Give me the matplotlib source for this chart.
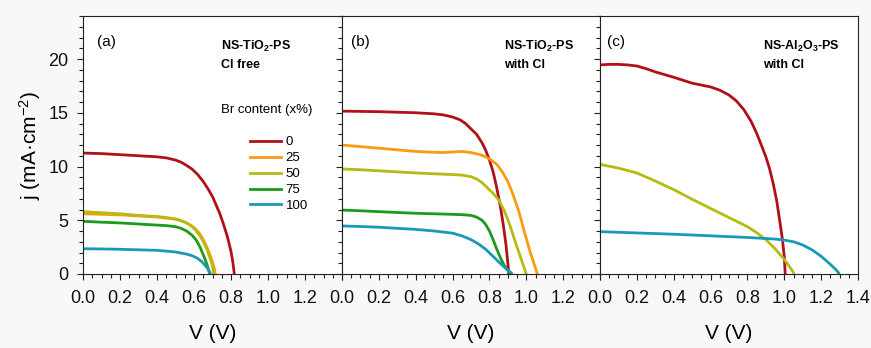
import matplotlib
matplotlib.use("Agg")
import matplotlib.pyplot as plt
from matplotlib.ticker import MultipleLocator, FuncFormatter
from matplotlib.lines import Line2D

plt.rcParams['font.family'] = ['Liberation Sans', 'DejaVu Sans']
plt.rcParams['mathtext.fontset'] = 'custom'
plt.rcParams['mathtext.rm'] = 'Liberation Sans'
plt.rcParams['mathtext.it'] = 'Liberation Sans:italic'
plt.rcParams['mathtext.bf'] = 'Liberation Sans:bold'

# ---- data ----
br_labels = ["0", "25", "50", "75", "100"]
colors = {"0": "#b01019", "25": "#ff9a10", "50": "#b5bb12", "75": "#1b9a1b", "100": "#1a98b8"}

# panel (a) NS-TiO2-PS, Cl free
a_V_0 = [0, 0.1, 0.2, 0.3, 0.35, 0.4, 0.45, 0.5, 0.53, 0.56, 0.59, 0.62, 0.65, 0.68, 0.7, 0.72, 0.74, 0.76, 0.78, 0.80, 0.81, 0.818]
a_j_0 = [11.25, 11.2, 11.1, 11.0, 10.95, 10.9, 10.8, 10.6, 10.4, 10.1, 9.75, 9.25, 8.6, 7.8, 7.2, 6.4, 5.6, 4.6, 3.5, 2.1, 1.1, 0]
a_V_25 = [0, 0.1, 0.2, 0.3, 0.4, 0.45, 0.5, 0.53, 0.56, 0.59, 0.61, 0.63, 0.65, 0.67, 0.69, 0.70, 0.71, 0.715]
a_j_25 = [5.6, 5.55, 5.5, 5.4, 5.3, 5.2, 5.1, 4.95, 4.75, 4.45, 4.15, 3.75, 3.2, 2.5, 1.6, 1.1, 0.5, 0]
a_V_50 = [0, 0.1, 0.2, 0.3, 0.4, 0.45, 0.5, 0.53, 0.56, 0.59, 0.61, 0.63, 0.65, 0.67, 0.69, 0.70, 0.705, 0.707]
a_j_50 = [5.8, 5.7, 5.6, 5.45, 5.35, 5.25, 5.12, 4.97, 4.75, 4.4, 4.05, 3.6, 3.0, 2.3, 1.3, 0.7, 0.15, 0]
a_V_75 = [0, 0.1, 0.2, 0.3, 0.4, 0.45, 0.5, 0.53, 0.56, 0.59, 0.61, 0.63, 0.65, 0.67, 0.685]
a_j_75 = [4.9, 4.82, 4.75, 4.65, 4.55, 4.5, 4.4, 4.25, 4.0, 3.6, 3.2, 2.6, 1.8, 0.9, 0]
a_V_100 = [0, 0.1, 0.2, 0.3, 0.4, 0.45, 0.5, 0.53, 0.56, 0.59, 0.62, 0.645, 0.665, 0.68, 0.69]
a_j_100 = [2.35, 2.33, 2.3, 2.25, 2.2, 2.13, 2.05, 1.95, 1.85, 1.7, 1.45, 1.1, 0.7, 0.35, 0]

# panel (b) NS-TiO2-PS, with Cl
b_V_0 = [0, 0.2, 0.4, 0.5, 0.55, 0.6, 0.64, 0.67, 0.7, 0.73, 0.76, 0.78, 0.80, 0.82, 0.84, 0.86, 0.875, 0.89, 0.9, 0.905]
b_j_0 = [15.15, 15.1, 15.0, 14.9, 14.8, 14.6, 14.35, 14.0, 13.5, 13.0, 12.2, 11.5, 10.6, 9.5, 8.0, 6.2, 4.6, 2.7, 1.0, 0]
b_V_25 = [0, 0.1, 0.2, 0.3, 0.4, 0.5, 0.55, 0.6, 0.65, 0.7, 0.75, 0.78, 0.81, 0.84, 0.87, 0.9, 0.93, 0.96, 0.99, 1.02, 1.045, 1.06]
b_j_25 = [12.0, 11.85, 11.7, 11.55, 11.4, 11.32, 11.3, 11.35, 11.4, 11.3, 11.1, 10.9, 10.6, 10.2, 9.5, 8.6, 7.3, 5.8, 3.9, 2.1, 0.8, 0]
b_V_50 = [0, 0.1, 0.2, 0.3, 0.4, 0.5, 0.6, 0.65, 0.7, 0.73, 0.76, 0.79, 0.82, 0.85, 0.88, 0.91, 0.94, 0.97, 0.99, 1.0]
b_j_50 = [9.77, 9.7, 9.6, 9.5, 9.4, 9.32, 9.25, 9.2, 9.05, 8.85, 8.5, 8.0, 7.5, 6.9, 5.9, 4.6, 3.0, 1.5, 0.5, 0]
b_V_75 = [0, 0.1, 0.2, 0.3, 0.4, 0.5, 0.6, 0.65, 0.7, 0.73, 0.76, 0.78, 0.8, 0.82, 0.84, 0.86, 0.88, 0.9, 0.92]
b_j_75 = [5.95, 5.88, 5.8, 5.72, 5.65, 5.6, 5.55, 5.52, 5.45, 5.3, 5.0, 4.6, 4.0, 3.2, 2.3, 1.5, 0.8, 0.35, 0]
b_V_100 = [0, 0.1, 0.2, 0.3, 0.4, 0.5, 0.6, 0.65, 0.7, 0.74, 0.78, 0.81, 0.84, 0.87, 0.9, 0.925]
b_j_100 = [4.47, 4.42, 4.35, 4.25, 4.15, 4.0, 3.8, 3.55, 3.2, 2.8, 2.3, 1.8, 1.3, 0.8, 0.35, 0]

# panel (c) NS-Al2O3-PS, with Cl
c_V_0 = [0, 0.05, 0.1, 0.15, 0.2, 0.25, 0.3, 0.4, 0.5, 0.6, 0.65, 0.7, 0.74, 0.78, 0.82, 0.85, 0.88, 0.9, 0.92, 0.94, 0.96, 0.98, 0.99, 1.0, 1.005]
c_j_0 = [19.45, 19.5, 19.5, 19.45, 19.35, 19.1, 18.8, 18.3, 17.75, 17.4, 17.1, 16.65, 16.1, 15.3, 14.2, 13.1, 11.8, 10.9, 9.8, 8.4, 6.7, 4.4, 3.2, 1.6, 0]
c_V_50 = [0, 0.1, 0.2, 0.3, 0.4, 0.5, 0.6, 0.7, 0.8, 0.85, 0.9, 0.95, 1.0, 1.03, 1.055]
c_j_50 = [10.2, 9.85, 9.4, 8.65, 7.85, 6.95, 6.1, 5.25, 4.4, 3.85, 3.2, 2.35, 1.35, 0.65, 0]
c_V_100 = [0, 0.2, 0.4, 0.6, 0.8, 0.95, 1.0, 1.05, 1.1, 1.15, 1.2, 1.25, 1.28, 1.3]
c_j_100 = [3.94, 3.82, 3.7, 3.55, 3.4, 3.25, 3.15, 3.0, 2.7, 2.25, 1.65, 0.9, 0.4, 0]

panels = [
    ("(a)", "NS-TiO$_\\mathbf{2}$-PS\nCl free",
     [("0", a_V_0, a_j_0), ("25", a_V_25, a_j_25), ("50", a_V_50, a_j_50),
      ("75", a_V_75, a_j_75), ("100", a_V_100, a_j_100)]),
    ("(b)", "NS-TiO$_\\mathbf{2}$-PS\nwith Cl",
     [("0", b_V_0, b_j_0), ("25", b_V_25, b_j_25), ("50", b_V_50, b_j_50),
      ("75", b_V_75, b_j_75), ("100", b_V_100, b_j_100)]),
    ("(c)", "NS-Al$_\\mathbf{2}$O$_\\mathbf{3}$-PS\nwith Cl",
     [("0", c_V_0, c_j_0), ("50", c_V_50, c_j_50), ("100", c_V_100, c_j_100)]),
]

W, H = 871, 348
fig = plt.figure(figsize=(W / 100, H / 100), dpi=100)
fig.patch.set_facecolor("#f8f8f8")

lefts = [83, 342, 600]
widths = [259, 258, 258]
bottom_px, top_px = 274, 16

title_x = [0.745, 0.88, 0.885]
tag_x = [0.075, 0.05, 0.04]

for i, (tag, title, series) in enumerate(panels):
    ax = fig.add_axes([lefts[i] / W, 1 - bottom_px / H, widths[i] / W, (bottom_px - top_px) / H])
    ax.set_facecolor("white")
    for key, V, j in series:
        ax.plot(V, j, color=colors[key], lw=2.0, solid_capstyle="butt", solid_joinstyle="round")
    ax.set_xlim(0, 1.4)
    ax.set_ylim(0, 24)
    ax.xaxis.set_major_locator(MultipleLocator(0.2))
    ax.xaxis.set_minor_locator(MultipleLocator(0.05))
    ax.yaxis.set_major_locator(MultipleLocator(5))
    ax.yaxis.set_minor_locator(MultipleLocator(1))
    ax.tick_params(which="both", direction="out", top=False, right=False, width=0.8, color="#222222")
    ax.tick_params(which="major", length=4.5, labelsize=13, labelcolor="#111111")
    ax.tick_params(which="minor", length=2.8)
    ax.tick_params(axis="x", which="major", pad=7)
    ax.tick_params(axis="y", which="major", pad=6)
    if i < 2:
        ax.xaxis.set_major_formatter(FuncFormatter(lambda v, p: "" if v > 1.3 else f"{v:.1f}"))
    else:
        ax.xaxis.set_major_formatter(FuncFormatter(lambda v, p: f"{v:.1f}"))
    if i > 0:
        ax.set_yticklabels([])
    else:
        ax.set_ylabel("j (mA·cm$^{-2}$)", fontsize=15, labelpad=4)
    ax.set_xlabel("V (V)", fontsize=15, labelpad=12)
    for s in ax.spines.values():
        s.set_linewidth(0.8)
        s.set_color("#222222")
    ax.text(tag_x[i], 21.6, tag, fontsize=11, va="center", ha="left")
    ax.text(title_x[i], 20.4, title, fontsize=9, fontweight="bold", va="center", ha="left",
            linespacing=1.6)
    if i == 0:
        ax.text(0.745, 15.3, "Br content (x%)", fontsize=9.5, va="center", ha="left")
        handles = [Line2D([], [], color=colors[k], lw=2.0) for k in br_labels]
        leg = ax.legend(handles, br_labels, loc="upper left", bbox_to_anchor=(0.62, 0.56),
                        frameon=False, fontsize=9.5, handlelength=2.3, handletextpad=0.4,
                        labelspacing=0.28, borderpad=0)

fig.savefig("out.png", dpi=100, facecolor=fig.get_facecolor())
